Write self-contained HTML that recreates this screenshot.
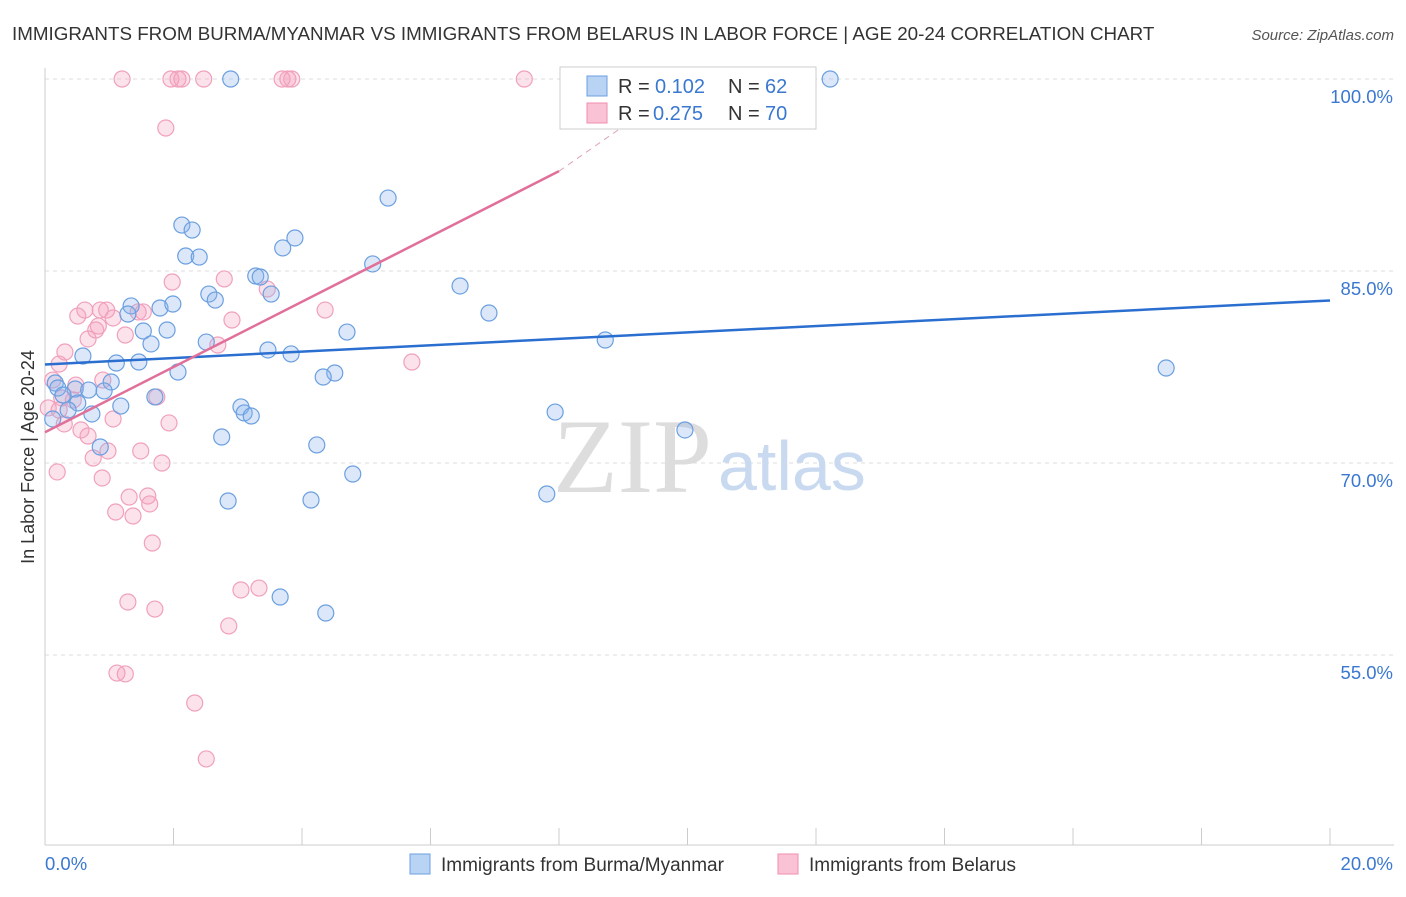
<!DOCTYPE html>
<html><head><meta charset="utf-8"><style>
body{margin:0;background:#fff;font-family:"Liberation Sans",sans-serif}
</style></head><body>
<svg width="1406" height="892" xmlns="http://www.w3.org/2000/svg" font-family="Liberation Sans, sans-serif">
<text x="12" y="40" font-size="18.8" fill="#333">IMMIGRANTS FROM BURMA/MYANMAR VS IMMIGRANTS FROM BELARUS IN LABOR FORCE | AGE 20-24 CORRELATION CHART</text>
<text x="1394" y="40" font-size="15" fill="#555" font-style="italic" text-anchor="end">Source: ZipAtlas.com</text>
<g id="grid"></g>
<g id="axes"></g>
<text x="553" y="492" font-size="106" fill="#ddd" font-family="Liberation Serif, serif">ZIP</text>
<text x="718" y="490" font-size="70" fill="#c9daf0">atlas</text>
<g id="pts"></g>
<g id="lines"></g>
<text transform="translate(34,457) rotate(-90)" font-size="18" fill="#333" text-anchor="middle">In Labor Force | Age 20-24</text>
<g>
<rect x="560" y="67" width="256" height="62" fill="#fff" stroke="#ccc"/>
<rect x="587" y="76" width="20" height="20" fill="#b9d3f5" stroke="#6a9fe0"/>
<rect x="587" y="103" width="20" height="20" fill="#f9c3d5" stroke="#f08cb0"/>
<text x="618" y="93" font-size="20" fill="#333">R =</text>
<text x="655" y="93" font-size="20" fill="#3a78d0">0.102</text>
<text x="728" y="93" font-size="20" fill="#333">N =</text>
<text x="765" y="93" font-size="20" fill="#3a78d0">62</text>
<text x="618" y="120" font-size="20" fill="#333">R =</text>
<text x="653" y="120" font-size="20" fill="#3a78d0">0.275</text>
<text x="728" y="120" font-size="20" fill="#333">N =</text>
<text x="765" y="120" font-size="20" fill="#3a78d0">70</text>
</g>
<g>
<rect x="410" y="854" width="20" height="20" fill="#b9d3f5" stroke="#6a9fe0"/>
<text x="441" y="871" font-size="19" fill="#333">Immigrants from Burma/Myanmar</text>
<rect x="778" y="854" width="20" height="20" fill="#f9c3d5" stroke="#f08cb0"/>
<text x="809" y="871" font-size="19" fill="#333">Immigrants from Belarus</text>
</g>
</svg>
<script>
const xTicks=[0,2,4,6,8,10,12,14,16,18,20];
const yTicks=[55,70,85,100];
const yTickLabels=["55.0%","70.0%","85.0%","100.0%"];
const blueX=[2.89,12.22,5.34,2.13,2.29,3.89,2.19,2.40,3.70,5.10,3.28,3.35,6.46,3.52,2.55,2.65,1.34,1.79,1.99,1.29,6.91,1.53,1.90,4.70,2.51,1.65,8.72,3.47,3.83,0.59,1.11,1.46,2.07,4.51,4.33,17.45,0.16,1.03,0.20,0.47,0.68,0.92,0.28,1.71,1.18,0.51,0.36,3.05,3.10,3.21,0.73,7.94,0.12,9.96,2.75,4.23,0.86,4.79,7.81,2.85,4.14,3.66,4.37];
const blueY=[100,100,90.7,88.59,88.2,87.58,86.17,86.09,86.8,85.55,84.61,84.53,83.83,83.2,83.2,82.73,82.27,82.11,82.42,81.64,81.72,80.31,80.39,80.23,79.45,79.3,79.61,78.83,78.52,78.36,77.81,77.89,77.11,77.03,76.72,77.42,76.25,76.33,75.86,75.78,75.7,75.63,75.31,75.16,74.45,74.69,74.14,74.38,73.91,73.67,73.83,73.98,73.44,72.58,72.03,71.41,71.25,69.14,67.58,67.03,67.11,59.53,58.28];
const pinkX=[1.20,1.96,2.07,2.13,2.47,3.69,3.78,3.84,7.46,1.88,1.98,2.79,3.46,4.36,0.51,0.62,0.86,0.96,1.06,1.45,1.53,0.83,0.79,1.25,0.67,2.91,0.31,2.69,5.71,0.22,0.12,0.48,0.90,0.26,0.44,1.74,0.05,0.22,1.06,0.30,1.93,0.56,0.67,0.98,1.49,0.75,1.82,0.19,0.89,1.31,1.60,1.63,1.10,1.37,1.67,3.05,3.33,1.29,1.71,2.86,1.12,1.25,2.33,2.51];
const pinkY=[100,100,100,100,100,100,100,100,100,96.17,84.14,84.38,83.59,81.95,81.48,81.95,81.95,81.95,81.33,81.8,81.8,80.7,80.39,80.0,79.69,81.17,78.67,79.22,77.89,77.73,76.48,76.09,76.48,75.08,74.92,75.16,74.3,74.14,73.44,73.05,73.13,72.58,72.11,70.94,70.94,70.39,70.0,69.3,68.83,67.34,67.42,66.8,66.17,65.86,63.75,60.08,60.23,59.14,58.59,57.27,53.59,53.52,51.25,46.88];
const X=v=>45+v*64.25, Y=v=>79+(100-v)*12.8;
const NS="http://www.w3.org/2000/svg";
function mk(t,a,p){const e=document.createElementNS(NS,t);for(const k in a)e.setAttribute(k,a[k]);p.appendChild(e);return e;}
const grid=document.getElementById('grid'),axes=document.getElementById('axes');
yTicks.forEach((t,i)=>{
 const l=mk('line',{x1:45,x2:1394,y1:Y(t),y2:Y(t),stroke:'#ddd','stroke-dasharray':'4,4'},grid);
 
 
 const tx=mk('text',{x:1393,y:Y(t)+24,'font-size':18.5,fill:'#3a78d0','text-anchor':'end'},axes);
 tx.textContent=yTickLabels[i];
 
 
});
mk('line',{x1:45,x2:45,y1:68,y2:845,stroke:'#ccc'},axes);
mk('line',{x1:45,x2:1394,y1:845,y2:845,stroke:'#ccc'},axes);
xTicks.forEach(t=>{const l=mk('line',{x1:X(t),x2:X(t),y1:828,y2:845,stroke:'#ccc'},axes);
 
 });
const a=mk('text',{x:45,y:870,'font-size':18.5,fill:'#3a78d0'},axes);a.textContent='0.0%';


const b=mk('text',{x:1393,y:870,'font-size':18.5,fill:'#3a78d0','text-anchor':'end'},axes);b.textContent='20.0%';


const pts=document.getElementById('pts');
pinkX.forEach((x,i)=>{const c=mk('circle',{cx:X(x),cy:Y(pinkY[i]),r:8,fill:'rgba(244,160,190,0.3)',stroke:'#f0a0bc','stroke-width':1.2},pts);
 
 });
blueX.forEach((x,i)=>{const c=mk('circle',{cx:X(x),cy:Y(blueY[i]),r:8,fill:'rgba(140,180,235,0.3)',stroke:'#6a9fe0','stroke-width':1.2},pts);
 
 });
const lines=document.getElementById('lines');
const bl=mk('line',{x1:X(0),y1:Y(77.7),x2:X(20),y2:Y(82.7),stroke:'#2a6fd0','stroke-width':2.5},lines);


const pl=mk('line',{x1:X(0),y1:Y(72.4),x2:X(8),y2:Y(92.8),stroke:'#e0709a','stroke-width':2.5},lines);


const pd=mk('line',{x1:X(8),y1:Y(92.8),x2:X(10.2),y2:Y(100.5),stroke:'#e0a0b8','stroke-width':1,'stroke-dasharray':'6,5'},lines);


</script>
</body></html>
